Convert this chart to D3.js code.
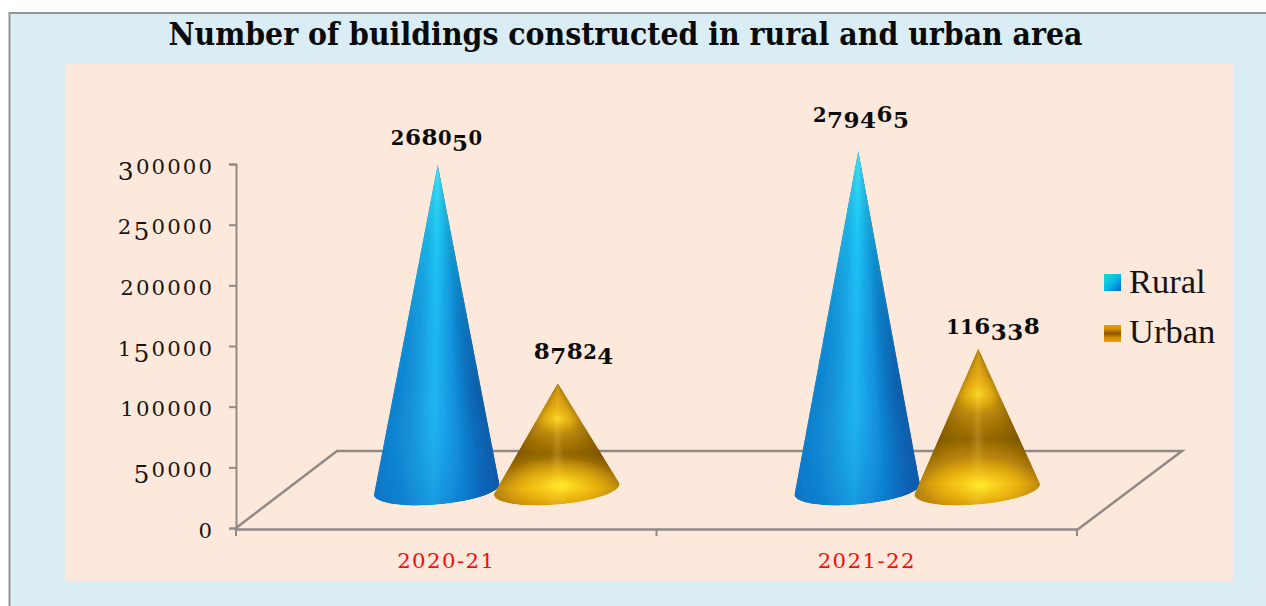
<!DOCTYPE html>
<html><head><meta charset="utf-8">
<script src="https://cdn.jsdelivr.net/npm/d3@7/dist/d3.min.js"></script>
<style>html,body{margin:0;padding:0;background:#fff}svg{display:block}</style></head>
<body><div id="c"></div>
<script>
const categories = ["2020-21","2021-22"];
const seriesNames = ["Rural","Urban"];
const rural = [268050,279465];
const urban = [87824,116338];
const yTicks = [0,50000,100000,150000,200000,250000,300000];
const titleText = "Number of buildings constructed in rural and urban area";

const W=1266,H=606;
const svg=d3.select("#c").append("svg").attr("width",W).attr("height",H);
const defs=svg.append("defs");
const serif="'DejaVu Serif',serif";
const x=d3.scaleBand().domain(categories).range([236,1077]);
const y=d3.scaleLinear().domain([0,300000]).range([528,164]);
const depthX=101,depthY=77;
const inner=d3.scaleBand().domain(seriesNames).range([-120,120]).paddingInner(0);

function lg(id,attrs,stops){const g=defs.append("linearGradient").attr("id",id);
 Object.entries(attrs).forEach(([k,v])=>g.attr(k,v));
 stops.forEach(s=>g.append("stop").attr("offset",s[0]).attr("stop-color",s[1]).attr("stop-opacity",s[2]===undefined?1:s[2]));}
lg("blueV",{x1:0,y1:0,x2:0,y2:1},[[0,"#40f0f0",.75],[.2,"#20dcf4",.5],[.45,"#18c4f4",.22],[.7,"#1090d8",.05],[1,"#0050b0",.28]]);
lg("goldV",{x1:0,y1:0,x2:0,y2:1},[[0,"#c08c0c"],[.14,"#dca414"],[.3,"#e0aa16"],[.46,"#b07e08"],[.58,"#946806"],[.72,"#c48e0a"],[.86,"#eeb210"],[1,"#cc9008"]]);
lg("swR",{x1:0,y1:0,x2:1,y2:1},[[0,"#14e0c8"],[.5,"#0cb8e8"],[1,"#0064d0"]]);
lg("swU",{x1:0,y1:0,x2:0,y2:1},[[0,"#f09c00"],[.25,"#d48a00"],[.5,"#835800"],[.75,"#d48a00"],[1,"#f5a000"]]);
const spot=defs.append("radialGradient").attr("id","spot");
spot.append("stop").attr("offset",0).attr("stop-color","#fff030").attr("stop-opacity",.95);
spot.append("stop").attr("offset",.35).attr("stop-color","#ffd820").attr("stop-opacity",.6);
spot.append("stop").attr("offset",1).attr("stop-color","#ffc000").attr("stop-opacity",0);
defs.append("filter").attr("id","soft").append("feGaussianBlur").attr("stdDeviation",.6);

svg.append("rect").attr("x",9.5).attr("y",13).attr("width",W+20).attr("height",H+20)
  .attr("fill","#daedf4").attr("stroke","#949494").attr("stroke-width",2);
svg.append("rect").attr("x",65).attr("y",64).attr("width",1168).attr("height",517).attr("fill","#fde9dc");
svg.append("text").attr("x",625.5).attr("y",45).attr("text-anchor","middle")
  .attr("font-family",serif).attr("font-weight","bold").attr("font-size",31)
  .attr("textLength",914).attr("lengthAdjust","spacingAndGlyphs").attr("fill","#0a0a0a").text(titleText);

const axisCol="#8f8a86";
const lineG=svg.append("g").attr("fill","none").attr("stroke",axisCol).attr("stroke-width",2.5);
lineG.append("path").attr("d",d3.line()([
 [x.range()[0],y(0)],[x.range()[0]+depthX,y(0)-depthY],[x.range()[1]+depthX+4,y(0)-depthY],[x.range()[1],y(0)+2]]));

function oldstyle(sel,str,size){
  let cur=0;
  [...str].forEach(ch=>{
    const low="012-".includes(ch), desc="34579".includes(ch);
    const target=desc?size*.24:0;
    sel.append("tspan").attr("dy",target-cur).attr("font-size",low?size*.85:size).text(ch);
    cur=target;
  });
}
const yAxis=d3.axisLeft(y).tickValues(yTicks).tickSize(7).tickFormat("");
const yg=svg.append("g").attr("transform","translate(236,0)").call(yAxis);
yg.selectAll("path,line").attr("stroke",axisCol).attr("stroke-width",2);
yg.selectAll(".tick").each(function(d){
  const t=d3.select(this).append("text").attr("x",-22).attr("y",9).attr("text-anchor","end")
    .attr("font-family",serif).attr("fill","#161616").attr("letter-spacing",2.1);
  oldstyle(t,String(d),25);
});
const xAxis=d3.axisBottom(x).tickValues([]).tickSizeOuter(0);
const xg=svg.append("g").attr("transform",`translate(0,${y(0)+1})`).call(xAxis);
xg.select("path").attr("stroke",axisCol).attr("stroke-width",2.5);
[x.range()[0],x(categories[1]),x.range()[1]].forEach(v=>xg.append("line").attr("x1",v).attr("x2",v).attr("y1",0).attr("y2",7).attr("stroke",axisCol).attr("stroke-width",2));
categories.forEach(c=>{
  const t=svg.append("text").attr("x",x(c)+x.bandwidth()/2).attr("y",568).attr("text-anchor","middle")
    .attr("font-family",serif).attr("fill","#ff0808").attr("letter-spacing",1.4);
  oldstyle(t,c,25);
});

const rx=63,ry=15,rot=-5*Math.PI/180;
const rampRural=d3.scaleLinear().domain([-1,-.6,-.05,.4,.75,1]).range(["#0e80cc","#1590d8","#22b8f4","#1490dc","#0a68b8","#0a58a4"]);
function cone(name,cat,val,i){
  const cx=x(cat)+x.bandwidth()/2+depthX/2+inner(name)+inner.bandwidth()/2;
  const cy=y(0)-depthY/2;
  const tip=[cx+1,y(val)-depthY/2];
  const c=Math.cos(rot),s=Math.sin(rot);
  const dx=tip[0]-cx,dy=tip[1]-cy;
  const X=(dx*c+dy*s)/rx,Y=(-dx*s+dy*c)/ry;
  const L=Math.hypot(X,Y),a0=Math.atan2(Y,X),da=Math.acos(1/L);
  const a1=a0+da,a2=a0-da+2*Math.PI;
  const n=64;
  const P=a=>{const px=rx*Math.cos(a),py=ry*Math.sin(a);return [cx+px*c-py*s,cy+px*s+py*c];};
  const pts=d3.range(n+1).map(k=>P(a1+(a2-a1)*k/n));
  const outline=[tip,...pts];
  const id="clip"+name+i;
  defs.append("clipPath").attr("id",id).append("path").attr("d",d3.line()(outline)+"Z");
  const g=svg.append("g").attr("filter","url(#soft)");
  const b=g.append("g").attr("clip-path",`url(#${id})`);
  const wedge=k=>d3.line()([tip,pts[k],...(pts[k+1]?[pts[k+1]]:[]),...(pts[k+2]?[pts[k+2]]:[])])+"Z";
  const u=k=>((pts[k][0]+pts[k+1][0])/2-cx)/rx;
  const outlineD=d3.line()(outline)+"Z";
  if(name==="Rural"){
    d3.range(n).forEach(k=>{const col=rampRural(u(k));
      b.append("path").attr("d",wedge(k)).attr("fill",col);});
    b.append("path").attr("d",outlineD).attr("fill","url(#blueV)");
  } else {
    const hh=cy+16-tip[1];
    b.append("path").attr("d",outlineD).attr("fill","url(#goldV)");
    const thin=k=>d3.line()([tip,pts[k],pts[k+1]])+"Z";
    d3.range(n).forEach(k=>{const v=Math.abs(u(k));
      b.append("path").attr("d",thin(k)).attr("fill",u(k)>0?"#4a2e00":"#5a3a00").attr("opacity",Math.pow(v,3)*.32);
      if(v<.2) b.append("path").attr("d",thin(k)).attr("fill","#ffd860").attr("opacity",(.2-v)*1.1);
    });
    b.append("ellipse").attr("cx",cx+1).attr("cy",tip[1]+hh*.29).attr("rx",22).attr("ry",hh*.13).attr("fill","url(#spot)").attr("opacity",.7);
    b.append("ellipse").attr("cx",cx+4).attr("cy",cy-4).attr("rx",60).attr("ry",28).attr("fill","url(#spot)");
  }
}
categories.forEach((c,i)=>{cone("Rural",c,rural[i],i);cone("Urban",c,urban[i],i);});

// value labels
const labelShift={Rural:[[0,-19],[4,-28]],Urban:[[17,-24],[16,-14]]};
seriesNames.forEach(name=>{
  const vals=name==="Rural"?rural:urban;
  categories.forEach((c,i)=>{
    const cx=x(c)+x.bandwidth()/2+depthX/2+inner(name)+inner.bandwidth()/2;
    const t=svg.append("text").attr("x",cx+labelShift[name][i][0]).attr("y",y(vals[i])-depthY/2+labelShift[name][i][1])
      .attr("text-anchor","middle").attr("font-family",serif).attr("font-weight","bold").attr("fill","#0c0c0c").attr("letter-spacing",.5);
    oldstyle(t,String(vals[i]),23);
  });
});

// legend
seriesNames.forEach((n,i)=>{
  const ly=274+i*51;
  svg.append("rect").attr("x",1104).attr("y",ly).attr("width",17).attr("height",17).attr("fill",i?"url(#swU)":"url(#swR)");
  svg.append("text").attr("x",1129).attr("y",293+i*50).attr("font-family","'Liberation Serif',serif").attr("font-size",34.5).attr("fill","#141414").text(n);
});
</script></body></html>
